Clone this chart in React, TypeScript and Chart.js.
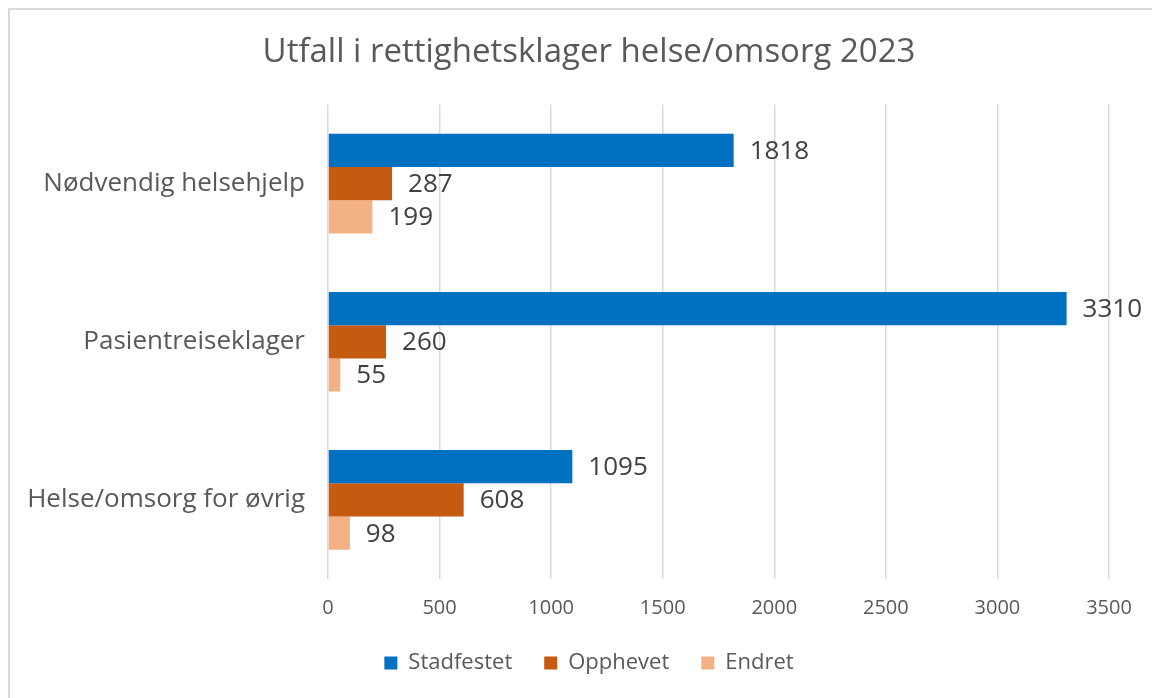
import React, { useEffect, useRef } from "react";
import { Chart, registerables } from "chart.js";

Chart.register(...registerables);

const categories = ["Nødvendig helsehjelp", "Pasientreiseklager", "Helse/omsorg for øvrig"];
const seriesNames = ["Stadfestet", "Opphevet", "Endret"];
const stadfestet = [1818, 3310, 1095];
const opphevet = [287, 260, 608];
const endret = [199, 55, 98];
const seriesColors = ["#0070C0", "#C55A11", "#F4B183"];
const xMin = 0;
const xMax = 3500;
const xStep = 500;
const titleText = "Utfall i rettighetsklager helse/omsorg 2023";

const FONT = '"Open Sans", "Noto Sans", sans-serif';

const valueLabels = {
  id: "valueLabels",
  afterDatasetsDraw(chart: any) {
    const ctx = chart.ctx;
    ctx.save();
    ctx.font = `26px ${FONT}`;
    ctx.fillStyle = "#404040";
    ctx.textBaseline = "middle";
    ctx.textAlign = "left";
    chart.data.datasets.forEach((ds: any, i: number) => {
      const meta = chart.getDatasetMeta(i);
      meta.data.forEach((bar: any, j: number) => {
        ctx.fillText(String(ds.data[j]), bar.x + 16, bar.y + 1);
      });
    });
    ctx.restore();
  },
};

export default function App() {
  const ref = useRef<HTMLCanvasElement | null>(null);

  useEffect(() => {
    if (!ref.current) return;
    const seriesData = [stadfestet, opphevet, endret];
    const chart = new Chart(ref.current, {
      type: "bar",
      data: {
        labels: categories,
        datasets: seriesNames.map((name, i) => ({
          label: name,
          data: seriesData[i],
          backgroundColor: seriesColors[i],
          borderWidth: 0,
          categoryPercentage: 0.63,
          barPercentage: 1,
        })),
      },
      options: {
        indexAxis: "y",
        responsive: false,
        animation: false,
        layout: { padding: { left: 16, right: 0, top: 0, bottom: 14 } },
        scales: {
          x: {
            min: xMin,
            max: xMax,
            ticks: {
              stepSize: xStep,
              padding: 17,
              color: "#595959",
              font: { family: FONT, size: 20 },
              callback: (v: any) => String(v),
            },
            grid: { color: "#d9d9d9", lineWidth: 1.5, drawTicks: false },
            border: { display: false },
            afterFit: (s: any) => {
              s.height = 41;
            },
          },
          y: {
            ticks: {
              padding: 23,
              color: "#595959",
              font: { family: FONT, size: 26 },
            },
            grid: { display: false, drawTicks: false },
            border: { display: false },
            afterFit: (s: any) => {
              s.width = 302;
            },
          },
          y2: {
            type: "category",
            position: "right",
            display: true,
            ticks: { display: false },
            grid: { display: false, drawTicks: false },
            border: { display: false },
            afterFit: (s: any) => {
              s.width = 43;
            },
          },
        },
        plugins: {
          title: {
            display: true,
            text: titleText,
            color: "#595959",
            font: { family: FONT, size: 33, weight: "normal" },
            padding: { top: 23, bottom: 32 },
          },
          legend: {
            position: "bottom",
            labels: {
              boxWidth: 13,
              boxHeight: 13,
              padding: 32,
              color: "#595959",
              font: { family: FONT, size: 22 },
            },
          },
          tooltip: { enabled: false },
        },
      },
      plugins: [valueLabels],
    } as any);
    return () => chart.destroy();
  }, []);

  return (
    <div
      style={{
        position: "fixed",
        left: 8,
        top: 8,
        width: 1144,
        height: 690,
        boxSizing: "border-box",
        borderTop: "2px solid #d9d9d9",
        borderLeft: "2px solid #d9d9d9",
        background: "#ffffff",
      }}
    >
      <canvas ref={ref} width={1142} height={688} style={{ display: "block" }} />
    </div>
  );
}
